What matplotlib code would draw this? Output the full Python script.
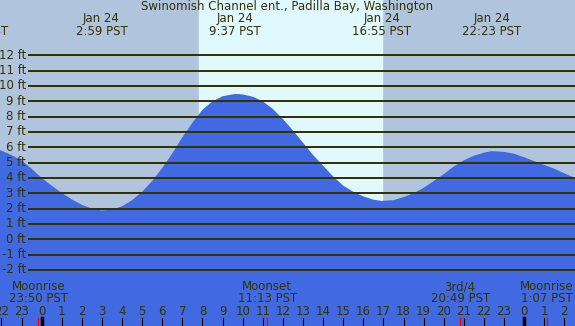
import matplotlib
matplotlib.use('Agg')
import matplotlib.pyplot as plt
import matplotlib.transforms as mtransforms

# 潮位曲线 (小时, 英尺) - 从图上读取, 每半小时
hours = [-2.07, -1.5, -1.0, -0.5, 0, 0.5, 1.0, 1.5, 2.0, 2.5, 2.98, 3.5, 4.0, 4.5, 5.0, 5.5,
         6.0, 6.5, 7.0, 7.5, 8.0, 8.5, 9.0, 9.62, 10.0, 10.5, 11.0, 11.5, 12.0, 12.5, 13.0,
         13.5, 14.0, 14.5, 15.0, 15.5, 16.0, 16.5, 16.92, 17.5, 18.0, 18.5, 19.0, 19.5,
         20.0, 20.5, 21.0, 21.5, 22.0, 22.38, 23.0, 23.5, 24.0, 24.5, 25.0, 25.5, 26.0, 26.53]
heights = [5.82, 5.5, 5.15, 4.6, 4.0, 3.5, 3.02, 2.6, 2.25, 2.0, 1.88, 1.93, 2.15, 2.55, 3.1,
           3.8, 4.65, 5.6, 6.65, 7.6, 8.45, 9.0, 9.33, 9.48, 9.45, 9.3, 9.0, 8.5, 7.85, 7.1,
           6.3, 5.5, 4.8, 4.1, 3.5, 3.1, 2.8, 2.58, 2.5, 2.55, 2.75, 3.0, 3.35, 3.8, 4.25,
           4.75, 5.15, 5.45, 5.65, 5.75, 5.7, 5.58, 5.35, 5.1, 4.85, 4.6, 4.3, 4.0]

# 日出日落
sunrise, sunset = 7.83, 16.93

# 高低潮标注
tide_hours = [-3.14, 2.98, 9.62, 16.92, 22.38]
tide_dates = ['Jan 23', 'Jan 24', 'Jan 24', 'Jan 24', 'Jan 24']
tide_times = ['20:51 PST', '2:59 PST', '9:37 PST', '16:55 PST', '22:23 PST']

# 月相
moon_hours = [-0.17, 11.22, 20.82, 25.12]
moon_names = ['Moonrise', 'Moonset', '3rd/4', 'Moonrise']
moon_times = ['23:50 PST', '11:13 PST', '20:49 PST', '1:07 PST']

ft_levels = list(range(-2, 13))
hour_ticks = list(range(-2, 27))

night_col = '#b0c4de'
day_col = '#e0f8ff'
fill_col = '#4169e1'
txt_col = '#333300'
fs = 8.5

fig = plt.figure(figsize=(5.75, 3.26), dpi=100)
ax = fig.add_axes([0, 0, 1, 1])
ax.set_xlim(-2.07, 26.53)
ax.set_ylim(-5.66, 15.61)
ax.axis('off')
ax.add_patch(plt.Rectangle((0, 0), 1, 1, transform=ax.transAxes, color=night_col, zorder=0))
ax.axvspan(sunrise, sunset, color=day_col, zorder=1)

ax.fill_between(hours, -10, heights, color=fill_col, lw=0, zorder=2)

# 网格线 + 刻度文字
x_line_start = -2.07 + 29 / 20.1
for v in ft_levels:
    ax.plot([x_line_start, 26.53], [v, v], color=txt_col, lw=1.2, antialiased=False, zorder=3)
    ax.text(-2.07 + 26 / 20.1, v, f'{v} ft', ha='right', va='center',
            fontsize=fs, color=txt_col, zorder=4)

trans = mtransforms.blended_transform_factory(ax.transData, ax.transAxes)

# 顶部标注
ax.text(0.5, 0.979, 'Swinomish Channel ent., Padilla Bay, Washington', transform=ax.transAxes,
        ha='center', va='center', fontsize=fs, color=txt_col, zorder=5)
for h, d, t in zip(tide_hours, tide_dates, tide_times):
    ax.text(h, 0.942, d, transform=trans, ha='center', va='center', fontsize=fs, color=txt_col, zorder=5)
    ax.text(h, 0.902, t, transform=trans, ha='center', va='center', fontsize=fs, color=txt_col, zorder=5)

# 底部小时刻度
for h in hour_ticks:
    lab = h % 24
    ax.text(h, 0.043, str(lab), transform=trans, ha='center', va='center',
            fontsize=fs, color=txt_col, zorder=5)
    if lab == 0:
        ax.plot([h, h], [0, 0.0245], transform=trans, color='black', lw=2.5, zorder=5)
    else:
        ax.plot([h, h], [0, 0.0245], transform=trans, color='black', lw=0.8, zorder=5)

# 月相
for h, n, t in zip(moon_hours, moon_names, moon_times):
    ax.text(h, 0.12, n, transform=trans, ha='center', va='center', fontsize=fs, color=txt_col, zorder=5)
    ax.text(h, 0.083, t, transform=trans, ha='center', va='center', fontsize=fs, color=txt_col, zorder=5)
    ax.plot([h, h], [0, 0.0245], transform=trans, color='red', lw=0.9, zorder=6)

fig.savefig('out.png', dpi=100)
